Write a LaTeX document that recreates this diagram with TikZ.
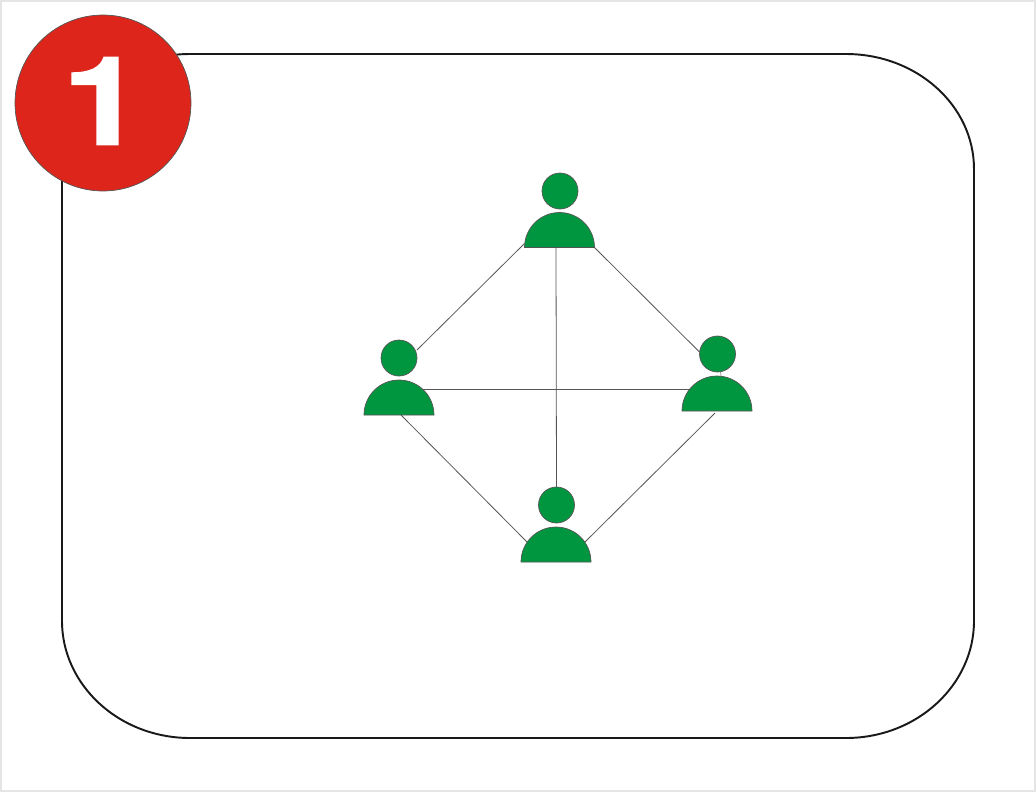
\documentclass[tikz,border=0pt]{standalone}
\usepackage{fontspec}
\newfontfamily\lenumfont[UprightFont=* Bold,FakeBold=1.2,FakeStretch=1.2]{TeX Gyre Heros}
\usetikzlibrary{calc}
\usetikzlibrary{shapes.geometric}
\definecolor{lered}{RGB}{221,37,28}
\definecolor{legreen}{RGB}{0,150,64}
\definecolor{leline}{RGB}{85,85,85}
\tikzset{
  lehead/.style = {circle,draw = leline,line width = 0.4pt,fill = legreen,minimum size = 0.72cm,inner sep = 0pt,outer sep = 0pt},
  lebody/.style = {semicircle,draw = leline,line width = 0.4pt,fill = legreen,minimum width = 1.4cm,minimum height = 0.7cm,inner sep = 0pt,outer sep = 0pt,anchor = chord center},
  lelink/.style = {draw = leline,line width = 0.45pt}
}
\begin{document}
\begin{tikzpicture}[x = 0.02cm,y = -0.02cm]
\useasboundingbox (0,0) rectangle (1036,792);
\draw[color = black!10,line width = 1.2pt,fill = white] (1,1) rectangle (1035,791);
% outer frame
\draw[color = black!90,line width = 1.1pt] (190,54) -- (846,54) .. controls (916.7,54) and (974,105.5) .. (974,169) -- (974,621) .. controls (974,685) and (917,738) .. (846,738) -- (190,738) .. controls (119,738) and (62,685) .. (62,621) -- (62,169) .. controls (62,105.5) and (119,54) .. (190,54) -- cycle;
% the four people
\foreach \n/\x/\y/\u/\v in {top/560/191/559.5/247.5,left/399/358/399/415,right/717.5/354/717/411,bot/556.5/505/556/562} {
  \node[lehead] (\n-head) at (\x,\y) {};
  \node[lebody] (\n-body) at (\u,\v) {};
}
% links
\draw[lelink] ($(top-body.chord center)+(-35,-4)$) -- ($(left-head)+(18,-8)$);
\draw[lelink] ($(top-body.chord center)+(35,0)$) -- ($(right-head)+(-18,-2)$);
\draw[lelink] ($(top-body.chord center)+(-3.5,0)$) -- (bot-head.north);
\draw[lelink] ($(left-body.chord center)+(23.4,-26)$) -- ($(right-body.chord center)+(-27.2,-22)$);
\draw[lelink] ($(left-body.chord center)+(2,0)$) -- ($(bot-body.chord center)+(-29,-20)$);
\draw[lelink] ($(right-body.chord center)+(-2,2)$) -- ($(bot-body.chord center)+(29,-20)$);
\draw[lelink,color = black!40] ($(right-head)+(3,18)$) -- ($(right-body.chord center)+(4,-35)$);
% number badge
\node[circle,draw = leline,line width = 0.4pt,fill = lered,minimum size = 3.52cm,inner sep = 0pt] (badge) at (103,103) {};
\node[color = white,inner sep = 0pt] (badgenum) at (103,101) {\fontsize{70}{70}\selectfont\lenumfont 1};
\end{tikzpicture}
\end{document}
